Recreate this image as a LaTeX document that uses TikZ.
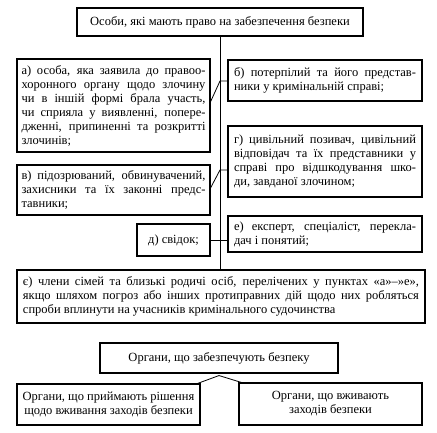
\documentclass[tikz,border=0pt]{standalone}
\usepackage{fontspec}
\setmainfont{Liberation Serif}
\usetikzlibrary{calc}
\newcommand\jl[2]{\makebox[#1pt][s]{#2}\par}
\newcommand\lastl[1]{\makebox[0pt][l]{#1}\par}
\begin{document}
\begin{tikzpicture}[x=1pt,y=-1pt,
  box/.style={draw, line width=1.1pt, rectangle, inner sep=0pt,
    font=\fontsize{12.5pt}{14pt}\selectfont},
  conn/.style={line width=0.8pt}]
\path[fill=white] (0,0) rectangle (437,433);
\useasboundingbox (0,0) rectangle (437,433);

\node[box, minimum width=286pt, minimum height=28pt] (top) at (220,22)
  {Особи, які мають право на забезпечення безпеки};

\node[box, minimum width=193pt, minimum height=93pt] (a) at (113.5,105.5)
  {\parbox{184pt}{\jl{184}{а) особа, яка заявила до правоо-}%
   \jl{184}{хоронного органу щодо злочину}%
   \jl{184}{чи в іншій формі брала участь,}%
   \jl{184}{чи сприяла у виявленні, попере-}%
   \jl{184}{дженні, припиненні та розкритті}%
   \lastl{злочинів;}}};

\node[box, minimum width=194pt, minimum height=41pt] (b) at (325,80.5)
  {\parbox{182pt}{\jl{182}{б) потерпілий та його представ-}%
   \lastl{ники у кримінальній справі;}}};

\node[box, minimum width=194pt, minimum height=71pt] (g) at (325,161.5)
  {\parbox{182pt}{\jl{182}{г) цивільний позивач, цивільний}%
   \jl{182}{відповідач та їх представники у}%
   \jl{182}{справі про відшкодування шко-}%
   \lastl{ди, завданої злочином;}}};

\node[box, minimum width=193pt, minimum height=50pt] (v) at (113.5,190)
  {\parbox{184pt}{\jl{184}{в) підозрюваний, обвинувачений,}%
   \jl{184}{захисники та їх законні предс-}%
   \lastl{тавники;}}};

\node[box, minimum width=73pt, minimum height=32pt] (d) at (173.5,240)
  {д) свідок;};

\node[box, minimum width=194pt, minimum height=36pt] (e) at (325,234)
  {\parbox{182pt}{\jl{182}{е) експерт, спеціаліст, перекла-}%
   \lastl{дач і понятий;}}};

\node[box, minimum width=408pt, minimum height=53pt] (ye) at (221,296.5)
  {\parbox{396pt}{\jl{396}{є) члени сімей та близькі родичі осіб, перелічених у пунктах «а»–»е»,}%
   \jl{396}{якщо шляхом погроз або інших протиправних дій щодо них робляться}%
   \lastl{спроби вплинути на учасників кримінального судочинства}}};

\node[box, minimum width=238pt, minimum height=30pt] (org) at (219,358)
  {Органи, що забезпечують безпеку};

\node[box, minimum width=183pt, minimum height=41pt, align=center] (lb) at (108.5,404.5)
  {Органи, що приймають рішення\\щодо вживання заходів безпеки};

\node[box, minimum width=183pt, minimum height=42pt, align=center] (rb) at (330.5,404)
  {Органи, що вживають\\заходів безпеки};

% connectors
\coordinate (j1) at (220,81);
\coordinate (j2) at (220,170);
\draw[conn] (top.south) -- (top.south |- ye.north);
\draw[conn] ($(a.north east)!0.46!(a.south east)$) -- (j1) -- (j1 -| b.west);
\draw[conn] ($(v.north east)!0.46!(v.south east)$) -- (j2) -- (j2 -| g.west);
\draw[conn] (d.east) -- (d.east -| e.west);
\coordinate (peak) at ($(org.south)+(0,2)$);
\draw[conn] ($(lb.north east)+(-3,0)$) -- (peak) -- ($(rb.north west)+(3,0)$);
\end{tikzpicture}
\end{document}
